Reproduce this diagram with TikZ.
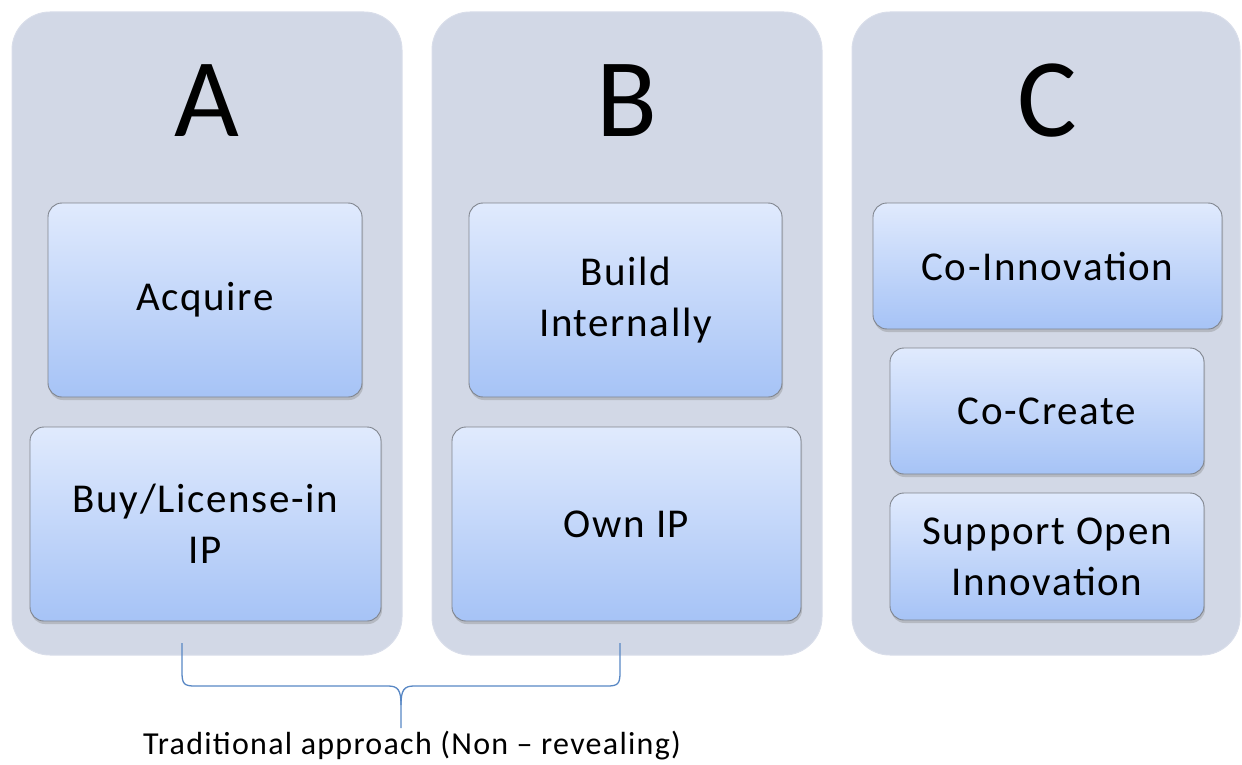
\documentclass[tikz,border=0pt]{standalone}
\usepackage{fontspec}
\setmainfont{Carlito}
\newfontfamily\itemfont[LetterSpace=4]{Carlito}
\usetikzlibrary{shadows}
\definecolor{panelfill}{RGB}{210,216,230}
\definecolor{itemtop}{RGB}{224,234,253}
\definecolor{itembot}{RGB}{166,195,246}
\definecolor{itemedge}{RGB}{128,133,142}
\definecolor{bracecol}{RGB}{88,135,196}
\tikzset{
  panel/.style={fill=panelfill, draw=panelfill!85!white, line width=1pt,
    rounded corners=38pt, inner sep=0pt},
  item/.style={draw=itemedge, line width=0.9pt, rounded corners=14pt,
    top color=itemtop, bottom color=itembot, inner sep=0pt,
    align=center, font=\itemfont\fontsize{41}{51}\selectfont,
    drop shadow={opacity=0.35, shadow xshift=1pt, shadow yshift=-3pt}},
  bigletter/.style={font=\fontsize{112}{114}\selectfont},
  bracestyle/.style={draw=bracecol, line width=1.3pt},
  caption/.style={font=\itemfont\fontsize{32}{36}\selectfont, inner sep=0pt}
}
\begin{document}
\begin{tikzpicture}[x=1pt, y=-1pt]
\useasboundingbox (0,0) rectangle (1242,765);

% three column panels
\node[panel, minimum width=390pt, minimum height=643pt] (pA) at (207,333.5) {};
\node[panel, minimum width=390pt, minimum height=643pt] (pB) at (627,333.5) {};
\node[panel, minimum width=388pt, minimum height=643pt] (pC) at (1046,333.5) {};

% column headings
\node[bigletter] (lA) at (207,101) {A};
\node[bigletter] (lB) at (627,101) {B};
\node[bigletter] (lC) at (1047,101) {C};

% column A
\node[item, minimum width=314pt, minimum height=194pt] (acq) at (205,300) {Acquire};
\node[item, minimum width=351pt, minimum height=194pt] (buy) at (205.5,524) {Buy/License-in\\IP};

% column B
\node[item, minimum width=313pt, minimum height=194pt] (bld) at (625.5,300) {Build\\Internally};
\node[item, minimum width=349pt, minimum height=194pt] (own) at (626.5,524) {Own IP};

% column C
\node[item, minimum width=349pt, minimum height=126pt] (coi) at (1047.5,266) {Co-Innovation};
\node[item, minimum width=314pt, minimum height=126pt] (coc) at (1047,411) {Co-Create};
\node[item, minimum width=314pt, minimum height=127pt] (sup) at (1047,556.5) {Support Open\\Innovation};

% brace under columns A and B
\coordinate (bl) at (182,643);
\coordinate (br) at (620,643);
\coordinate (btip) at (401,728);
\node[caption, anchor=base] (cap) at (412,754) {Traditional approach (Non – revealing)};
\draw[bracestyle] (bl) -- (182,672) .. controls (182,684) and (184,686) .. (195,686)
  -- (388,686) .. controls (398,686) and (401,690) .. (401,705) -- (btip);
\draw[bracestyle] (br) -- (620,672) .. controls (620,684) and (618,686) .. (607,686)
  -- (414,686) .. controls (404,686) and (401,690) .. (401,705);
\end{tikzpicture}
\end{document}
